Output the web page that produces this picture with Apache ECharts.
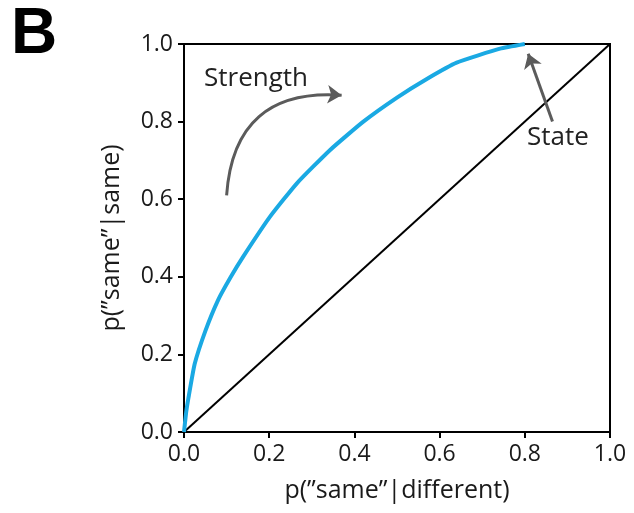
<!DOCTYPE html>
<html>
<head>
<meta charset="utf-8">
<script src="https://cdn.jsdelivr.net/npm/echarts@6/dist/echarts.min.js"></script>
<style>
  html, body { margin: 0; padding: 0; background: #fff; }
  #chart { width: 634px; height: 513px; }
</style>
</head>
<body>
<div id="chart"></div>
<script>
'use strict';

// ROC curve
var falseRate = [0, 0.005, 0.01, 0.025, 0.05, 0.08, 0.11, 0.139, 0.202, 0.265, 0.343, 0.421, 0.50, 0.57, 0.64, 0.742, 0.80];
var hitRate   = [0, 0.05, 0.085, 0.175, 0.26, 0.34, 0.40, 0.452, 0.555, 0.641, 0.727, 0.80, 0.862, 0.910, 0.952, 0.988, 1.0];
var chanceLine = [[0, 0], [1, 1]];
var strengthArrow = [[0.10, 0.61], [0.37, 0.868]];
var stateArrow = [[0.865, 0.80], [0.808, 0.975]];

var font = '"Open Sans", "Noto Sans", sans-serif';
var chart = echarts.init(document.getElementById('chart'));

var curve = falseRate.map((x, i) => [x, hitRate[i]]);

var axisBase = {
    type: 'value', min: 0, max: 1, interval: 0.2,
    axisLine: {show: true, lineStyle: {color: '#000', width: 2}},
    axisTick: {show: true, length: 6, lineStyle: {color: '#000', width: 2}},
    splitLine: {show: false},
    axisLabel: {
        color: '#1a1a1a', fontSize: 23, fontFamily: font, margin: 11,
        formatter: v => v.toFixed(1)
    },
    nameLocation: 'middle',
    nameTextStyle: {color: '#1a1a1a', fontSize: 25, fontFamily: font}
};

chart.setOption({
    animation: false,
    grid: {left: 184, right: 24, top: 44, bottom: 81, show: true, borderColor: '#000', borderWidth: 2},
    xAxis: Object.assign({}, axisBase, {name: 'p(\u201dsame\u201d|different)', nameGap: 46}),
    yAxis: Object.assign({}, axisBase, {name: 'p(\u201dsame\u201d|same)', nameGap: 60}),
    graphic: [
        {type: 'text', left: 11, top: 3, style: {text: 'B', fontSize: 64, fontWeight: 'bold', fontFamily: '"Liberation Sans", Arial, sans-serif', fill: '#000'}},
        {type: 'text', left: 204, top: 66, style: {text: 'Strength', fontSize: 26, fontFamily: font, fill: '#222'}},
        {type: 'text', left: 527, top: 125, style: {text: 'State', fontSize: 26, fontFamily: font, fill: '#222'}}
    ],
    series: [
        {
            type: 'line', data: chanceLine, symbol: 'none',
            lineStyle: {color: '#000', width: 2}, z: 2
        },
        {
            type: 'line', data: curve, symbol: 'none', smooth: 0.15,
            lineStyle: {color: '#1aa9e3', width: 4}, z: 3
        },
        {
            type: 'lines', coordinateSystem: 'cartesian2d', z: 4,
            symbol: ['none', 'arrow'], symbolSize: [10, 14],
            lineStyle: {color: '#5b5b5b', width: 3, opacity: 1},
            data: [
                {coords: strengthArrow, lineStyle: {curveness: 0.5}},
                {coords: stateArrow, lineStyle: {curveness: 0}}
            ]
        }
    ]
});
</script>
</body>
</html>
